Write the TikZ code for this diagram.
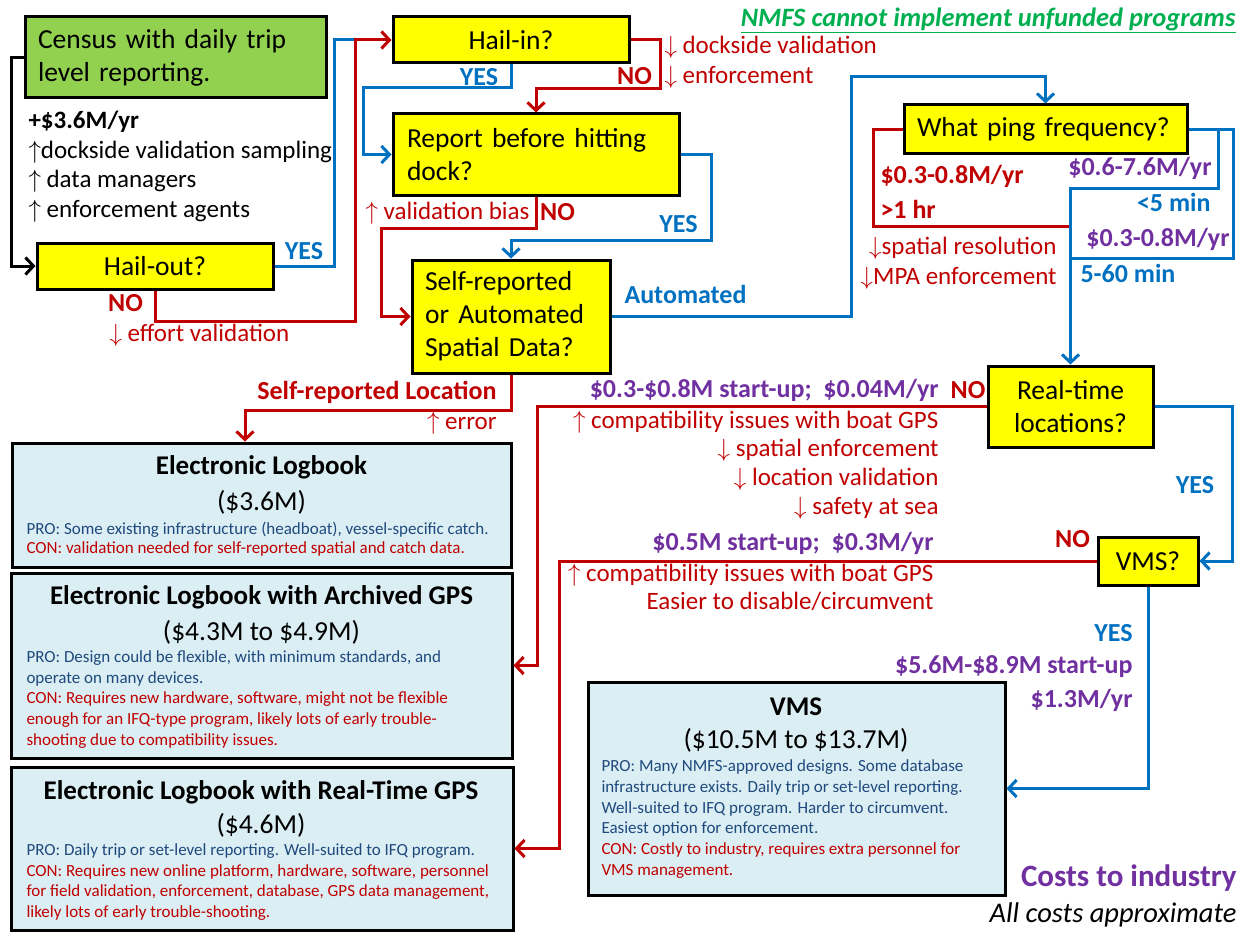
\documentclass[tikz,border=0pt]{standalone}
\usepackage{fontspec}
\setmainfont{Carlito}
\usetikzlibrary{arrows.meta}
\definecolor{qyellow}{HTML}{FFFF00}
\definecolor{cgreen}{HTML}{92D050}
\definecolor{optblue}{HTML}{DBEEF4}
\definecolor{cred}{HTML}{C00000}
\definecolor{cblue}{HTML}{0070C0}
\definecolor{cpurple}{HTML}{7030A0}
\definecolor{prodark}{HTML}{1F497D}
\definecolor{nmfsgreen}{HTML}{00B050}
\newcommand\fsz[2]{\fontsize{#1}{#2}\selectfont}
\newcommand\proline[1]{\textcolor{prodark}{#1}}
\newcommand\conline[1]{\textcolor{cred}{#1}}

\begin{document}
\begin{tikzpicture}[x=1pt,y=-1pt,line width=3pt,
    qbox/.style={draw,fill=qyellow,inner sep=0pt,font=\fsz{27.5}{33}},
    qleft/.style={qbox,align=left,inner xsep=13pt},
    obox/.style={draw,fill=optblue,inner sep=0pt},
    otitle/.style={inner sep=0pt,font=\fsz{27}{32}\bfseries},
    ocost/.style={inner sep=0pt,font=\fsz{27.5}{32}},
    otext/.style={inner sep=0pt,align=left,anchor=west,font=\fsz{17}{20.7}},
    lbl/.style={inner sep=0pt},
    yeslbl/.style={lbl,text=cblue,font=\fsz{26}{30}\bfseries},
    nolbl/.style={lbl,text=cred,font=\fsz{26}{30}\bfseries},
    costlbl/.style={lbl,text=cpurple,font=\fsz{26}{30}\bfseries},
    efflbl/.style={lbl,text=cred,font=\fsz{25}{29.5}},
    yesline/.style={draw=cblue,-{Straight Barb[length=8pt,width=17pt]}},
    noline/.style={draw=cred,-{Straight Barb[length=8pt,width=17pt]}}]
    \useasboundingbox (0,0) rectangle (1246,931);

    % questions
    \node[qleft,fill=cgreen,text width=275pt,minimum height=81pt] (census) at (175.5,57.5) {Census with daily trip\\level reporting.};
    \node[qbox,minimum width=236pt,minimum height=46pt] (hailout) at (155,266) {Hail-out?};
    \node[qbox,minimum width=236pt,minimum height=46pt] (hailin) at (511,40) {Hail-in?};
    \node[qleft,text width=258pt,inner xsep=14pt,minimum height=81pt] (report) at (536,154.5) {Report before hitting\\dock?};
    \node[qleft,text width=172pt,minimum height=113pt] (self) at (511,316.5) {Self-reported\\or Automated\\Spatial Data?};
    \node[qleft,text width=257pt,minimum height=48pt] (ping) at (1045.5,129) {What ping frequency?};
    \node[qbox,align=center,minimum width=165pt,minimum height=81pt] (realtime) at (1070.5,406.5) {Real-time\\locations?};
    \node[qbox,minimum width=100pt,minimum height=48pt] (vmsq) at (1148,561) {VMS?};

    % options
    \node[obox,minimum width=499pt,minimum height=124pt] (elog) at (261.5,505) {};
    \node[otitle] (elogT) at (261.5,467) {Electronic Logbook};
    \node[ocost] (elogC) at (261.5,502) {(\$3.6M)};
    \node[otext,font=\fsz{17}{18.5}] (elogP) at (25,539) {\proline{PRO: Some existing infrastructure (headboat), vessel-specific catch.}\\\conline{CON: validation needed for self-reported spatial and catch data.}};

    \node[obox,minimum width=501pt,minimum height=185pt] (elogarch) at (261.5,665.5) {};
    \node[otitle] (elogarchT) at (261.5,597) {Electronic Logbook with Archived GPS};
    \node[ocost] (elogarchC) at (261.5,632) {(\$4.3M to \$4.9M)};
    \node[otext] (elogarchP) at (25,699.5) {\proline{PRO: Design could be flexible, with minimum standards, and}\\\proline{operate on many devices.}\\\conline{CON: Requires new hardware, software, might not be flexible}\\\conline{enough for an IFQ-type program, likely lots of early trouble-}\\\conline{shooting due to compatibility issues.}};

    \node[obox,minimum width=502pt,minimum height=163pt] (elogrt) at (262,848.5) {};
    \node[otitle] (elogrtT) at (261,792) {Electronic Logbook with Real-Time GPS};
    \node[ocost] (elogrtC) at (261,825) {(\$4.6M)};
    \node[otext] (elogrtP) at (25,882) {\proline{PRO: Daily trip or set-level reporting. Well-suited to IFQ program.}\\\conline{CON: Requires new online platform, hardware, software, personnel}\\\conline{for field validation, enforcement, database, GPS data management,}\\\conline{likely lots of early trouble-shooting.}};

    \node[obox,minimum width=417pt,minimum height=213pt] (vms) at (796.5,788.5) {};
    \node[otitle] (vmsT) at (796,707) {VMS};
    \node[ocost] (vmsC) at (796,740) {(\$10.5M to \$13.7M)};
    \node[otext] (vmsP) at (600,819) {\proline{PRO: Many NMFS-approved designs. Some database}\\\proline{infrastructure exists. Daily trip or set-level reporting.}\\\proline{Well-suited to IFQ program. Harder to circumvent.}\\\proline{Easiest option for enforcement.}\\\conline{CON: Costly to industry, requires extra personnel for}\\\conline{VMS management.}};

    % connectors
    \coordinate (hinjoin) at (355,40);
    \draw[-{Straight Barb[length=8pt,width=17pt]}] (census.west) -- ++(-12,0) |- (hailout.west);
    \draw[yesline,-] (hailout.east) -| (334,40) -- (hinjoin);
    \draw[noline] (hailout.south) -- ++(0,31) -| (hinjoin) -- (hailin.west);
    \draw[yesline] (hailin.south) |- (363,88) |- (report.west);
    \draw[noline] (hailin.east) -| (660,89) -| (report.north);
    \draw[yesline] (report.east) -| (711,240) -| (self.north);
    \draw[noline] (report.south) |- (381,228) |- (self.west);
    \draw[yesline] (self.east) -| (851,77) -| (ping.north);
    \draw[noline] (self.south) -- ++(0,36) -| ([xshift=-16.5pt]elog.north);
    \draw[noline,-] (ping.west) -| (873,226) -- (realtime.north |- 0,226);
    \draw[yesline,-] (ping.east) -| (1233,258) -- (realtime.north |- 0,258);
    \draw[yesline] (ping.east) -| (1218,188) -| (realtime.north);
    \draw[noline] (realtime.west) -| ([xshift=24pt]elogarch.east) -- (elogarch.east);
    \draw[yesline] (realtime.east) -| ([xshift=33pt]vmsq.east) -- (vmsq.east);
    \draw[noline] (vmsq.west) -| ([xshift=45pt]elogrt.east) -- (elogrt.east);
    \draw[yesline] (vmsq.south) |- (vms.east);

    % labels
    \node[lbl,anchor=west,align=left,font=\fsz{25}{29.6}] (censusnote) at (27,166.5) {\textbf{+\$3.6M/yr}\\$\uparrow$dockside validation sampling\\$\uparrow$ data managers\\$\uparrow$ enforcement agents};
    \node[yeslbl] (hoyes) at (304,251) {YES};
    \node[nolbl] (hono) at (125.5,303) {NO};
    \node[efflbl,anchor=west] (honote) at (108,335) {$\downarrow$ effort validation};
    \node[yeslbl] (hiyes) at (479,77) {YES};
    \node[nolbl] (hino) at (634.5,76) {NO};
    \node[efflbl,anchor=west,align=left] (hinote) at (663,62) {$\downarrow$ dockside validation\\$\downarrow$ enforcement};
    \node[efflbl,anchor=east] (rpnote) at (531,213) {$\uparrow$ validation bias};
    \node[nolbl] (rpno) at (557.5,212) {NO};
    \node[yeslbl] (rpyes) at (678.5,224) {YES};
    \node[yeslbl,anchor=west] (auto) at (623,294) {Automated};
    \node[nolbl,anchor=east] (selfloc) at (498,392) {Self-reported Location};
    \node[efflbl,anchor=east] (selfnote) at (498,423) {$\uparrow$ error};
    \node[nolbl,anchor=west] (pingslow) at (879,176) {\$0.3-0.8M/yr};
    \node[nolbl,anchor=west] (pinghr) at (879,209) {>1 hr};
    \node[efflbl,anchor=east,align=right] (pingnote) at (1058,263) {$\downarrow$spatial resolution\\$\downarrow$MPA enforcement};
    \node[costlbl,anchor=east] (pingfast) at (1213,168) {\$0.6-7.6M/yr};
    \node[yeslbl,anchor=east] (ping5) at (1212,202) {<5 min};
    \node[costlbl,anchor=east] (pingmid) at (1231,239) {\$0.3-0.8M/yr};
    \node[yeslbl,anchor=west] (ping60) at (1079,273) {5-60 min};
    \node[costlbl,anchor=east] (rtcost) at (940,390) {\$0.3-\$0.8M start-up;~ \$0.04M/yr};
    \node[nolbl] (rtno) at (968,390) {NO};
    \node[efflbl,anchor=east,align=right,font=\fsz{25}{28.7}] (rtnote) at (940,465) {$\uparrow$ compatibility issues with boat GPS\\$\downarrow$ spatial enforcement\\$\downarrow$ location validation\\$\downarrow$ safety at sea};
    \node[yeslbl] (rtyes) at (1195,485) {YES};
    \node[nolbl] (vqno) at (1072.5,539) {NO};
    \node[costlbl,anchor=east] (vqcost) at (935,543) {\$0.5M start-up;~ \$0.3M/yr};
    \node[efflbl,anchor=east,align=right,font=\fsz{25}{28}] (vqnote) at (935,587) {$\uparrow$ compatibility issues with boat GPS\\Easier to disable/circumvent};
    \node[yeslbl,anchor=east] (vqyes) at (1134,633) {YES};
    \node[costlbl,anchor=east] (vqstart) at (1134,667) {\$5.6M-\$8.9M start-up};
    \node[costlbl,anchor=east] (vqyr) at (1134,700) {\$1.3M/yr};
    \node[lbl,anchor=east,text=cpurple,font=\fsz{31}{36}\bfseries] (industry) at (1238,878) {Costs to industry};
    \node[lbl,anchor=east,font=\fsz{28.5}{34}\itshape] (approx) at (1238,915) {All costs approximate};
    \node[lbl,anchor=east,text=nmfsgreen,font=\fsz{26.5}{30}\bfseries\itshape] (nmfs) at (1237,20) {\underline{NMFS cannot implement unfunded programs}};
\end{tikzpicture}
\end{document}
